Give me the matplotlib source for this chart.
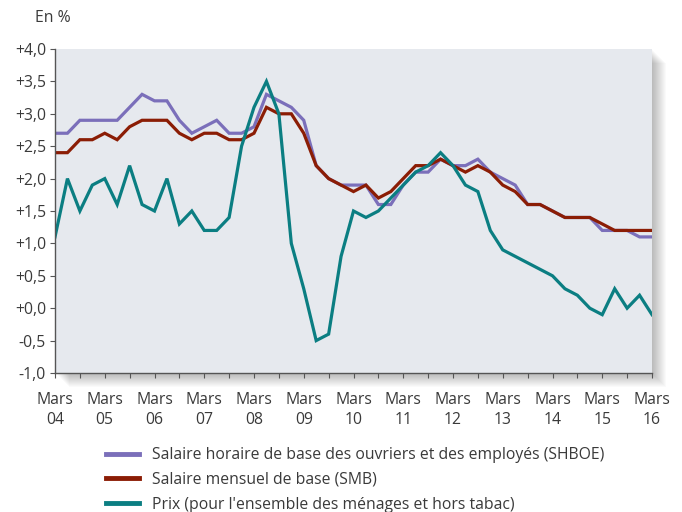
import matplotlib
matplotlib.use("Agg")
import matplotlib.pyplot as plt
import numpy as np
from matplotlib.patches import Rectangle

# quarterly data, Mars 2004 .. Mars 2016
years = ["04", "05", "06", "07", "08", "09", "10", "11", "12", "13", "14", "15", "16"]

shboe = [2.7, 2.7, 2.9, 2.9, 2.9, 2.9, 3.1, 3.3, 3.2, 3.2, 2.9, 2.7, 2.8,
         2.9, 2.7, 2.7, 2.8, 3.3, 3.2, 3.1, 2.9, 2.2, 2.0, 1.9, 1.9,
         1.9, 1.6, 1.6, 1.9, 2.1, 2.1, 2.3, 2.2, 2.2, 2.3, 2.1, 2.0,
         1.9, 1.6, 1.6, 1.5, 1.4, 1.4, 1.4, 1.2, 1.2, 1.2, 1.1, 1.1]

smb = [2.4, 2.4, 2.6, 2.6, 2.7, 2.6, 2.8, 2.9, 2.9, 2.9, 2.7, 2.6, 2.7,
       2.7, 2.6, 2.6, 2.7, 3.1, 3.0, 3.0, 2.7, 2.2, 2.0, 1.9, 1.8,
       1.9, 1.7, 1.8, 2.0, 2.2, 2.2, 2.3, 2.2, 2.1, 2.2, 2.1, 1.9,
       1.8, 1.6, 1.6, 1.5, 1.4, 1.4, 1.4, 1.3, 1.2, 1.2, 1.2, 1.2]

prix = [1.1, 2.0, 1.5, 1.9, 2.0, 1.6, 2.2, 1.6, 1.5, 2.0, 1.3, 1.5, 1.2,
        1.2, 1.4, 2.5, 3.1, 3.5, 3.0, 1.0, 0.3, -0.5, -0.4, 0.8, 1.5,
        1.4, 1.5, 1.7, 1.9, 2.1, 2.2, 2.4, 2.2, 1.9, 1.8, 1.2, 0.9,
        0.8, 0.7, 0.6, 0.5, 0.3, 0.2, 0.0, -0.1, 0.3, 0.0, 0.2, -0.1]

labels = ["Salaire horaire de base des ouvriers et des employés (SHBOE)",
          "Salaire mensuel de base (SMB)",
          "Prix (pour l'ensemble des ménages et hors tabac)"]
colors = ["#7b6fba", "#8b1d05", "#0b7e82"]

plt.rcParams['font.family'] = ['Open Sans', 'DejaVu Sans']
txt = "#3a3a3a"
fs = 11.3

fig = plt.figure(figsize=(6.82, 5.12), dpi=100)
l, b, w, h = 55 / 682, 1 - 373 / 512, 597 / 682, 324 / 512
ax = fig.add_axes([l, b, w, h])
ax.set_facecolor("#e6e9ee")

# soft drop shadow right/bottom of the plot area
for i in range(14):
    off = (i + 1) / 682
    offy = (i + 1) / 512
    fig.patches.append(Rectangle((l + off, b - offy), w, h, transform=fig.transFigure,
                                 facecolor="#000000", alpha=0.02, zorder=-5,
                                 edgecolor="none"))

x = np.arange(len(prix))
for series, c in zip([shboe, smb, prix], colors):
    ax.plot(x, series, color=c, lw=2.3, solid_joinstyle="miter")

ax.set_xlim(0, len(prix) - 1)
ax.set_ylim(-1.0, 4.0)
yt = np.arange(-1.0, 4.01, 0.5)
ax.set_yticks(yt)
ax.set_yticklabels([("+" if v >= 0 else "-") + f"{abs(v):.1f}".replace(".", ",") for v in yt])
ax.set_xticks(np.arange(0, len(prix), 4))
ax.set_xticklabels(["Mars\n" + y for y in years], linespacing=1.35)
ax.set_xticks(np.arange(2, len(prix), 4), minor=True)

for s in ["top", "right"]:
    ax.spines[s].set_visible(False)
for s in ["left", "bottom"]:
    ax.spines[s].set_color("#555555")
    ax.spines[s].set_linewidth(1.0)
ax.tick_params(axis="both", which="both", colors="#555555", labelcolor=txt,
               labelsize=fs, length=3.5, width=0.8)
ax.tick_params(axis="x", pad=10)
ax.tick_params(axis="y", pad=3)

fig.text(35 / 682, 1 - 18 / 512, "En %", fontsize=fs, color=txt, va="center", ha="left")

handles = [plt.Line2D([], [], color=c, lw=3.5) for c in colors]
fig.legend(handles, labels, loc="upper left", bbox_to_anchor=(106 / 682, 1 - 447 / 512),
           frameon=False, fontsize=fs, handlelength=2.1, handletextpad=0.8,
           labelspacing=0.56, borderpad=0, borderaxespad=0, labelcolor=txt)

fig.savefig("out.png", dpi=100)
